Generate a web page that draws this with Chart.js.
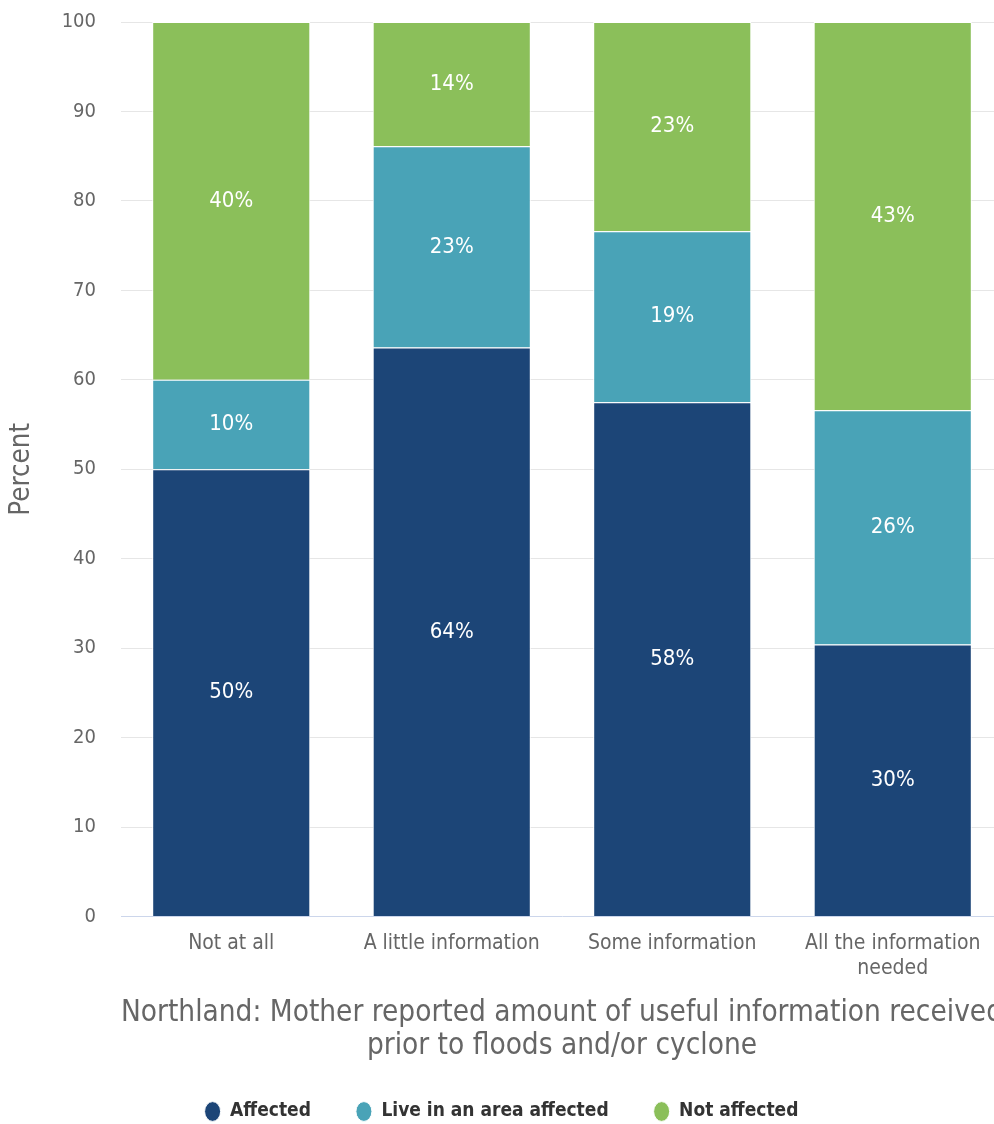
<!DOCTYPE html>
<html>
<head>
<meta charset="utf-8">
<script src="https://cdn.jsdelivr.net/npm/chart.js@4.4.1/dist/chart.umd.min.js"></script>
<style>
  html, body { margin: 0; padding: 0; background: #ffffff; overflow: hidden; }
  #wrap { width: 994px; height: 1124px; overflow: hidden; }
  canvas { display: block; }
</style>
</head>
<body>
<div id="wrap"><canvas id="c" width="1004" height="1131"></canvas></div>
<script>
const categories = ['Not at all', 'A little information', 'Some information', ['All the information', 'needed']];
const affected = [50, 63.6, 57.5, 30.4];
const liveInArea = [10, 22.5, 19.1, 26.2];
const notAffected = [40, 13.9, 23.4, 43.4];
const seriesNames = ['Affected', 'Live in an area affected', 'Not affected'];
const seriesColors = ['#1c4577', '#49a3b7', '#8bbf5a'];
const xTitle = ['Northland: Mother reported amount of useful information received', 'prior to floods and/or cyclone'];
const yTitle = 'Percent';

const FONT = "'DejaVu Sans Condensed', 'DejaVu Sans', sans-serif";

const valueLabels = {
  id: 'valueLabels',
  afterDatasetsDraw(chart) {
    const ctx = chart.ctx;
    ctx.save();
    ctx.font = "22px " + FONT;
    ctx.fillStyle = '#ffffff';
    ctx.textAlign = 'center';
    ctx.textBaseline = 'middle';
    chart.data.datasets.forEach((ds, di) => {
      const meta = chart.getDatasetMeta(di);
      meta.data.forEach((el, i) => {
        const p = el.getProps(['x', 'y', 'base'], true);
        const v = ds.data[i];
        ctx.fillText(Math.round(v) + '%', p.x, (p.y + p.base) / 2);
      });
    });
    ctx.restore();
  }
};

const dataArrays = [affected, liveInArea, notAffected];

new Chart(document.getElementById('c'), {
  type: 'bar',
  data: {
    labels: categories,
    datasets: dataArrays.map((d, i) => ({
      label: seriesNames[i],
      data: d,
      backgroundColor: seriesColors[i],
      borderColor: '#ffffff',
      borderWidth: 1,
      categoryPercentage: 1,
      barPercentage: 0.717
    }))
  },
  options: {
    responsive: false,
    animation: false,
    layout: { padding: { top: 22, right: 1, left: 0, bottom: 0 } },
    scales: {
      x: {
        stacked: true,
        grid: { display: false, drawTicks: false },
        border: { display: true, color: '#ccd6eb', width: 1 },
        ticks: { color: '#666666', font: { family: FONT, size: 21 }, padding: 14, maxRotation: 0, autoSkip: false },
        title: { display: true, text: xTitle, color: '#666666', font: { family: FONT, size: 29.5, lineHeight: 1.09 }, padding: { top: 2.8, bottom: -5 } }
      },
      y: {
        stacked: true,
        min: 0, max: 100,
        afterFit(s) { s.width = 121; },
        grid: { color: (c) => c.tick && c.tick.value === 0 ? 'rgba(0,0,0,0)' : '#e6e6e6', drawTicks: true, tickLength: 25, tickColor: 'rgba(0,0,0,0)', lineWidth: 1 },
        border: { display: false },
        ticks: { stepSize: 10, color: '#666666', font: { family: FONT, size: 20 }, padding: 0 },
        title: { display: true, text: yTitle, color: '#666666', font: { family: FONT, size: 27.5 }, padding: { top: 5, bottom: 0 } }
      }
    },
    plugins: {
      tooltip: { enabled: false },
      legend: {
        position: 'bottom',
        labels: {
          usePointStyle: true,
          pointStyle: 'circle',
          pointStyleWidth: 16,
          boxHeight: 14,
          padding: 45,
          color: '#333333',
          font: { family: FONT, size: 19, weight: 'bold' }
        }
      }
    }
  },
  plugins: [valueLabels]
});
</script>
</body>
</html>
